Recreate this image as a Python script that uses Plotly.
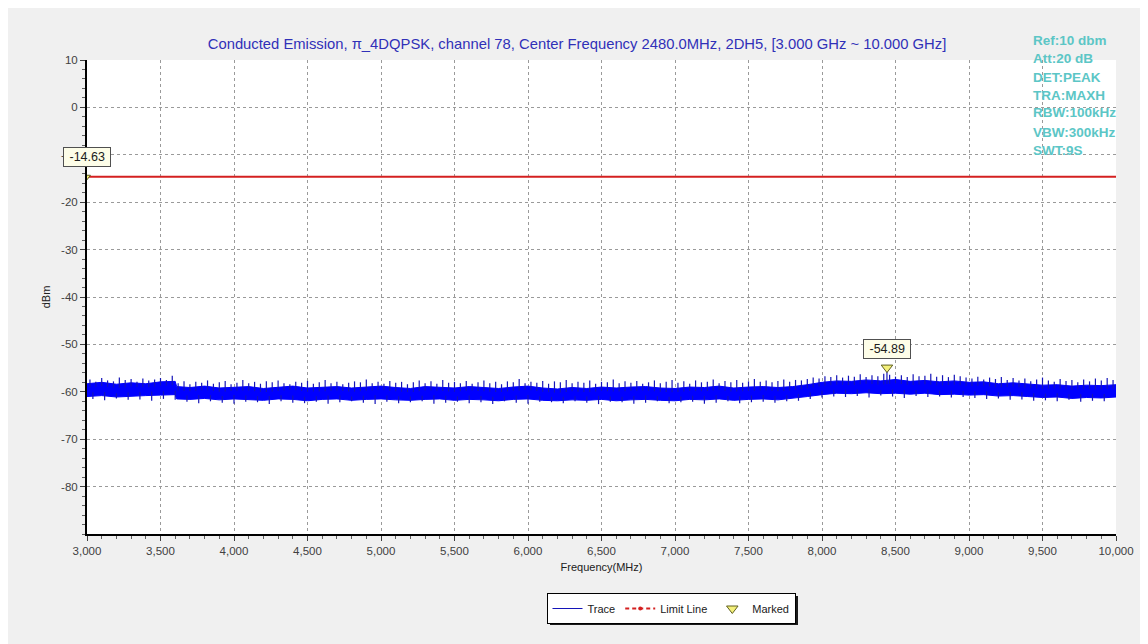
import numpy as np
import plotly.graph_objects as go

# ---------------- data ----------------
freq_mhz = [3000, 3100, 3200, 3300, 3400, 3500, 3600, 3610, 3700, 3800, 3900,
            4000, 4100, 4200, 4300, 4400, 4500, 4600, 4700, 4800, 4900,
            5000, 5100, 5200, 5300, 5400, 5500, 5600, 5700, 5800, 5900,
            6000, 6100, 6200, 6300, 6400, 6500, 6600, 6700, 6800, 6900,
            7000, 7100, 7200, 7300, 7400, 7500, 7600, 7700, 7800, 7900,
            8000, 8100, 8200, 8300, 8400, 8500, 8600, 8700, 8800, 8900,
            9000, 9100, 9200, 9300, 9400, 9500, 9600, 9700, 9800, 9900, 10000]

trace_upper = [-58.3, -58.0, -58.4, -58.1, -58.3, -57.9, -57.8, -58.9, -59.1, -58.8, -59.2,
               -59.0, -58.9, -59.3, -59.0, -58.8, -59.2, -59.1, -58.9, -59.2, -59.0,
               -58.8, -59.1, -59.3, -58.9, -59.0, -59.2, -58.9, -59.1, -59.3, -59.0,
               -58.8, -59.2, -59.4, -59.1, -59.3, -59.0, -59.2, -59.0, -58.9, -59.2,
               -59.3, -59.0, -59.1, -58.8, -59.2, -59.0, -58.9, -59.1, -58.9, -58.5,
               -58.0, -57.7, -57.8, -57.5, -57.7, -57.4, -57.8, -57.6, -57.9, -57.7,
               -58.0, -57.9, -58.3, -58.1, -58.4, -58.6, -58.5, -58.8, -58.6, -58.7, -58.5]

trace_lower = [-61.0, -60.8, -61.1, -60.9, -60.8, -60.7, -60.6, -61.5, -61.6, -61.4, -61.7,
               -61.5, -61.6, -61.8, -61.5, -61.6, -61.9, -61.6, -61.5, -61.8, -61.6,
               -61.5, -61.7, -61.8, -61.6, -61.5, -61.8, -61.6, -61.7, -61.9, -61.6,
               -61.5, -61.8, -61.9, -61.7, -61.8, -61.6, -61.9, -61.7, -61.6, -61.8,
               -61.9, -61.6, -61.7, -61.5, -61.8, -61.6, -61.5, -61.7, -61.4, -61.0,
               -60.6, -60.3, -60.4, -60.2, -60.4, -60.3, -60.5, -60.3, -60.6, -60.5,
               -60.7, -60.6, -60.9, -60.8, -61.0, -61.2, -61.1, -61.4, -61.2, -61.3, -61.1]

# upward spikes, every 40 MHz from 3020 to 9980 MHz
spike_up_freq = list(range(3020, 10000, 40))
spike_up_val = [
    -57.4, -57.9, -57.1, -57.6, -57.8, -57.0, -57.5, -57.3, -57.9, -57.2, -57.6, -57.4, -57.1, -57.5, -56.6,
    -58.2, -57.8, -58.4, -57.9, -58.1, -57.6, -58.3, -58.0, -57.7, -58.4,
    -58.1, -57.5, -58.2, -57.9, -58.3, -57.8, -58.0, -57.6, -58.2, -58.4,
    -57.9, -58.1, -57.7, -58.3, -58.0, -57.5, -58.2, -57.9, -58.4, -58.1,
    -57.8, -58.0, -57.4, -58.2, -57.9, -58.3, -57.7, -58.1, -57.9, -58.4,
    -58.0, -57.6, -58.2, -57.8, -58.3, -57.5, -58.1, -57.9, -58.2, -57.7,
    -58.3, -58.0, -57.6, -58.2, -57.9, -58.4, -57.8, -58.0, -57.3, -58.2,
    -57.9, -58.1, -57.7, -58.3, -57.8, -58.0, -57.5, -58.2, -57.9, -58.1,
    -57.6, -58.3, -57.9, -58.0, -57.4, -58.2, -57.8, -58.1, -57.7, -58.3,
    -58.0, -57.6, -58.2, -57.9, -57.5, -58.1, -57.8, -58.3, -57.6, -58.0,
    -57.9, -57.4, -58.2, -57.7, -58.0, -57.5, -58.1, -57.8, -57.3, -57.9,
    -57.6, -58.0, -57.7, -57.4, -57.9, -57.5, -57.6,
    -57.3, -57.0, -57.2, -56.7, -56.9, -56.5, -57.0, -56.6, -56.8, -56.3, -56.9, -56.5, -56.7, -56.2,
    -56.4, -56.8, -56.5, -56.9, -56.3, -56.7, -56.6, -56.2, -56.8, -56.5, -56.9, -56.4, -56.7, -57.0,
    -57.2, -56.8, -57.4, -57.0, -57.3, -56.9, -57.5, -57.1, -57.6, -57.2, -57.8, -57.4, -57.0,
    -57.6, -57.9, -57.3, -57.7, -57.5, -58.0, -57.4, -57.8, -57.2, -57.6, -57.1, -57.5,
]

# downward spikes, every 80 MHz from 3040 to 9920 MHz
spike_dn_freq = list(range(3040, 9960, 80))
spike_dn_val = [
    -61.5, -61.8, -61.4, -61.7, -61.6, -61.9, -61.5, -61.7,
    -62.1, -62.4, -62.0, -62.3, -62.5, -62.1, -62.2, -62.6, -62.0, -62.3,
    -62.4, -62.1, -62.5, -62.2, -62.0, -62.3, -62.6, -62.1, -62.4, -62.2,
    -62.0, -62.5, -62.3, -62.1, -62.4, -62.2, -62.6, -62.0, -62.3, -62.5,
    -62.1, -62.2, -62.4, -62.0, -62.3, -62.6, -62.1, -62.2, -62.5, -62.3,
    -62.0, -62.4, -62.2, -62.1, -62.5, -62.3, -62.0, -62.4, -62.2, -62.1,
    -62.3, -62.0, -61.9,
    -61.5, -61.2, -61.0, -61.1, -60.9, -61.2, -60.8, -61.0, -61.3, -60.9, -61.1, -61.0, -61.2, -61.1,
    -61.3, -61.5, -61.4, -61.7, -61.6, -61.9, -61.8, -62.0, -61.7, -62.1, -61.9, -62.0,
]

limit_freq = [3000, 10000]
limit_val = [-14.63, -14.63]

marker_freq = [8442]
marker_val = [-54.89]

x_ticks = [3000, 3500, 4000, 4500, 5000, 5500, 6000, 6500, 7000, 7500, 8000, 8500, 9000, 9500, 10000]
y_ticks = [10, 0, -10, -20, -30, -40, -50, -60, -70, -80]

title_text = "Conducted Emission, π_4DQPSK, channel 78, Center Frequency 2480.0MHz, 2DH5, [3.000 GHz ~ 10.000 GHz]"
info_lines = ["Ref:10 dbm", "Att:20 dB", "DET:PEAK", "TRA:MAXH", "RBW:100kHz", "VBW:300kHz", "SWT:9S"]

# ---------------- figure ----------------
FONT = "Liberation Sans, Arial, sans-serif"
BLUE = "#0000ff"

# layout geometry (pixels inside the figure)
L, T, PW, PH = 79, 52, 1029, 474
W, H = 1148, 644


def px_x(px):
    return (px - L) / PW


def px_y(py):
    return (T + PH - py) / PH


fig = go.Figure()

# noise band (envelope)
fig.add_trace(go.Scatter(x=freq_mhz, y=trace_lower, mode="lines",
                         line=dict(color=BLUE, width=1), showlegend=False, hoverinfo="skip"))
fig.add_trace(go.Scatter(x=freq_mhz, y=trace_upper, mode="lines", fill="tonexty",
                         fillcolor=BLUE, line=dict(color=BLUE, width=1),
                         showlegend=False, hoverinfo="skip"))

# spikes (start inside the band, end at the read peak)
sx, sy = [], []
all_up_f = spike_up_freq + marker_freq
all_up_v = spike_up_val + marker_val
up_base = np.interp(all_up_f, freq_mhz, trace_upper)
for f, v, b in zip(all_up_f, all_up_v, up_base):
    sx += [f, f, None]
    sy += [b - 0.8, v, None]
dn_base = np.interp(spike_dn_freq, freq_mhz, trace_lower)
for f, v, b in zip(spike_dn_freq, spike_dn_val, dn_base):
    sx += [f, f, None]
    sy += [b + 0.8, v, None]
fig.add_trace(go.Scatter(x=sx, y=sy, mode="lines", name="Trace",
                         line=dict(color="#1414b8", width=1.2), hoverinfo="skip"))

# limit line (solid in plot, dashed symbol in legend)
fig.add_trace(go.Scatter(x=limit_freq, y=limit_val, mode="lines", showlegend=False,
                         line=dict(color="#d42020", width=2)))
fig.add_trace(go.Scatter(x=[None], y=[None], mode="lines+markers", name="Limit Line",
                         line=dict(color="#d42020", width=2, dash="4px,3px"),
                         marker=dict(color="#d42020", size=4)))

# marker
fig.add_trace(go.Scatter(x=marker_freq, y=marker_val, mode="markers", name="Marked",
                         marker=dict(symbol="triangle-down", size=10, color="#f4f07a",
                                     line=dict(color="#606020", width=1))))
fig.add_trace(go.Scatter(x=[limit_freq[0]], y=[limit_val[0]], mode="markers", showlegend=False,
                         marker=dict(symbol="triangle-down", size=6, color="#f4f07a",
                                     line=dict(color="#606020", width=1))))

# marker value labels
fig.add_annotation(x=limit_freq[0], y=limit_val[0], text=f"&nbsp;{limit_val[0]:.2f}&nbsp;",
                   showarrow=False, yshift=20, font=dict(family=FONT, size=12.5, color="#202020"),
                   bgcolor="#fdfde8", bordercolor="#505050", borderwidth=1, borderpad=2)
fig.add_annotation(x=marker_freq[0], y=marker_val[0], text=f"&nbsp;{marker_val[0]:.2f}&nbsp;",
                   showarrow=False, yshift=19, font=dict(family=FONT, size=12.5, color="#202020"),
                   bgcolor="#fdfde8", bordercolor="#505050", borderwidth=1, borderpad=2)

# info text at top right (positions in figure pixels)
info_y = [32, 50, 69, 87, 105, 124, 142]
for txt, py in zip(info_lines, info_y):
    fig.add_annotation(xref="paper", yref="paper", x=px_x(1023), y=px_y(py),
                       xanchor="left", yanchor="middle", text=txt, showarrow=False,
                       font=dict(family=FONT, size=13.5, color="#5cc6c6", weight="bold"))

# legend shadow
fig.add_shape(type="rect", xref="paper", yref="paper",
              x0=px_x(542), x1=px_x(790), y0=px_y(617), y1=px_y(588),
              fillcolor="#1a1a1a", line=dict(width=0), layer="below")

grid = dict(showgrid=True, gridcolor="#9a9a9a", gridwidth=1, griddash="3px,3px")

fig.update_layout(
    width=W, height=H,
    margin=dict(l=L, r=W - L - PW, t=T, b=H - T - PH),
    paper_bgcolor="#f0f0f0", plot_bgcolor="#ffffff",
    font=dict(family=FONT, size=11, color="#303030"),
    title=dict(text=title_text, x=px_x(569), xref="paper", xanchor="center",
               y=1 - 36 / H, yanchor="middle",
               font=dict(family=FONT, size=14.8, color="#3030b8")),
    showlegend=True,
    legend=dict(orientation="h", x=px_x(663), xanchor="center",
                y=px_y(585), yanchor="top", traceorder="normal",
                bgcolor="#ffffff", bordercolor="#000000", borderwidth=1,
                font=dict(family=FONT, size=11, color="#202020"),
                itemwidth=30, tracegroupgap=0),
    xaxis=dict(range=[3000, 10000], tickvals=x_ticks, tickformat=",", ticks="outside",
               ticklen=5, tickcolor="#404040", showline=True, linecolor="#000000", linewidth=2,
               zeroline=False,
               minor=dict(dtick=100, ticks="outside", ticklen=3, tickcolor="#606060", showgrid=False),
               title=dict(text="Frequency(MHz)", standoff=8, font=dict(family=FONT, size=11, color="#202020")),
               tickfont=dict(family=FONT, size=11.5, color="#404040"),
               **grid),
    yaxis=dict(range=[-90, 10], tickvals=y_ticks, ticktext=[str(v) for v in y_ticks],
               ticks="outside", ticklen=5, tickcolor="#404040", showline=True,
               linecolor="#000000", linewidth=2, zeroline=False,
               minor=dict(dtick=2, ticks="outside", ticklen=3, tickcolor="#606060", showgrid=False),
               title=dict(text="dBm", standoff=8, font=dict(family=FONT, size=11, color="#202020")),
               tickfont=dict(family=FONT, size=11.5, color="#404040"),
               **grid),
)

fig.write_html("out.html")
